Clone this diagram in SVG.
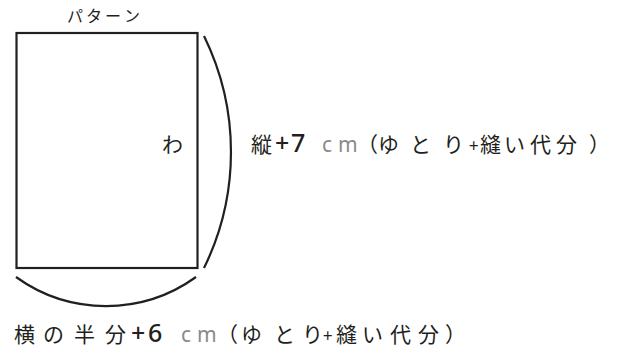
<svg xmlns="http://www.w3.org/2000/svg" width="623" height="352" viewBox="0 0 623 352">
<style>
.ln{fill:none;stroke:#231f20;stroke-width:2.2}
.t{font-family:"Noto Sans CJK JP","Noto Sans",sans-serif;fill:#231f20;font-size:21px}
.b{font-family:"Noto Sans","Noto Sans CJK JP",sans-serif;font-weight:500;font-size:25px}
.g{font-family:"Noto Sans",sans-serif;fill:#8a8a8a;font-size:21px}
.s{font-size:16px}
</style>
<rect width="623" height="352" fill="#ffffff"/>
<g id="pattern">
<rect class="ln" x="16.5" y="33" width="181" height="235"/>
<text class="t s" x="67 86 105 124" y="22">パターン</text>
<text class="t" x="162" y="152" font-size="20">わ</text>
</g>
<g id="connectors">
<path class="ln" d="M204,36 A263,263 0 0 1 204,268"/>
<path class="ln" d="M16,277 A154,154 0 0 0 196,277"/>
</g>
<g id="label-height">
<text class="t" y="152"><tspan x="251">縦</tspan><tspan class="b" x="275 291">+7</tspan><tspan class="g" x="322">c</tspan><tspan class="g" x="338" font-size="20">m</tspan><tspan x="357 378 410 443">（ゆとり</tspan><tspan x="469" font-size="17">+</tspan><tspan x="480 504 530 556 589">縫い代分）</tspan></text>
</g>
<g id="label-width">
<text class="t" y="342"><tspan x="14 43 74 105">横の半分</tspan><tspan class="b" x="131 148">+6</tspan><tspan class="g" x="181">c</tspan><tspan class="g" x="197" font-size="20">m</tspan><tspan x="217 241 274 302">（ゆとり</tspan><tspan x="323" font-size="17">+</tspan><tspan x="336 362 390 418 445">縫い代分）</tspan></text>
</g>
</svg>
